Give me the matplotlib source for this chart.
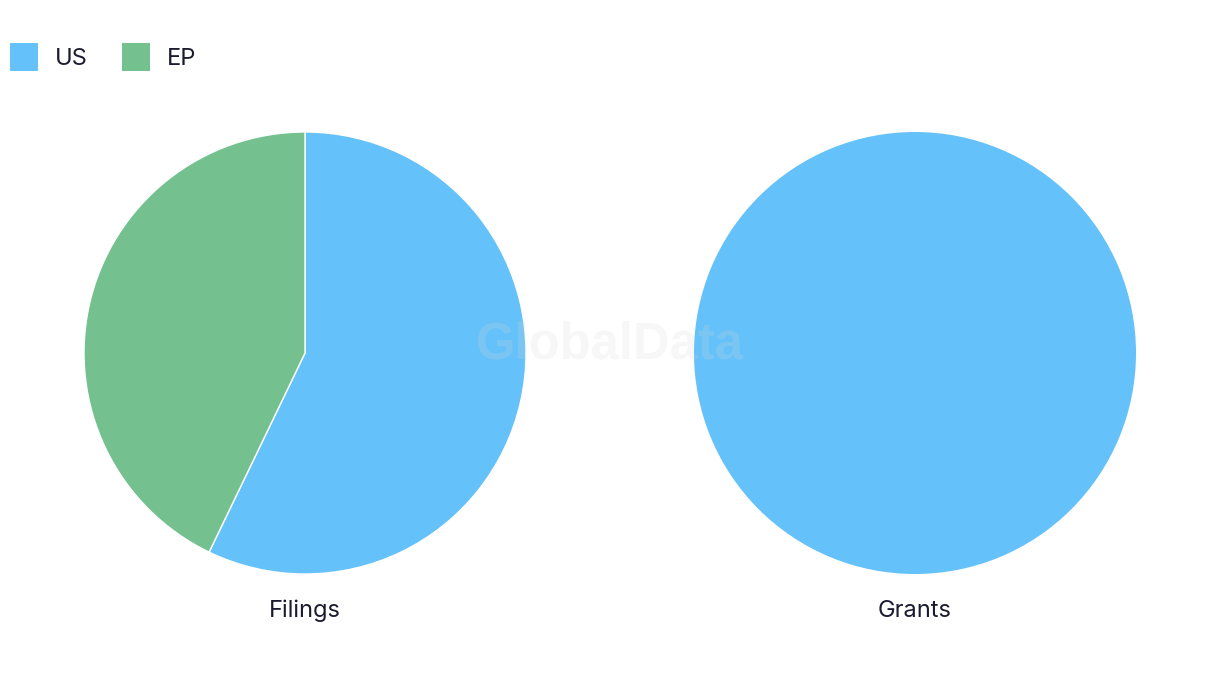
import matplotlib
matplotlib.use("Agg")
import matplotlib.pyplot as plt
from matplotlib.patches import Rectangle

categories = ["US", "EP"]
filings = [4, 3]
grants = [5, 0]
pie_titles = ["Filings", "Grants"]
colors = ["#64C1F9", "#74C18F"]
text_color = "#1b1b2f"

W, H = 1220, 686
fig = plt.figure(figsize=(W / 100, H / 100), dpi=100)
plt.rcParams['font.family'] = ['Inter', 'DejaVu Sans']

R = 221
centers = [(305, 353), (915, 353)]
for (cx, cy), vals, title in zip(centers, [filings, grants], pie_titles):
    ax = fig.add_axes([(cx - R) / W, (H - cy - R) / H, 2 * R / W, 2 * R / H])
    v = [x for x in vals if x > 0]
    c = [col for x, col in zip(vals, colors) if x > 0]
    ax.pie(v, colors=c, startangle=90, counterclock=False, radius=1,
           wedgeprops=dict(edgecolor="white", linewidth=1 if len(v) > 1 else 0))
    ax.set_xlim(-1, 1)
    ax.set_ylim(-1, 1)
    ax.set_aspect("equal")
    ax.axis("off")
    fig.text(cx / W, 1 - 611 / H, title, ha="center", va="center",
             fontsize=17, color=text_color)

# legend
lx = [10, 122]
for x0, cat, col in zip(lx, categories, colors):
    fig.add_artist(Rectangle((x0 / W, 1 - 71 / H), 28 / W, 28 / H,
                             transform=fig.transFigure, facecolor=col, edgecolor="none"))
    fig.text((x0 + 45) / W, 1 - 59 / H, cat, ha="left", va="center",
             fontsize=17, color=text_color)

# watermark
fig.text(610 / W, 1 - 345 / H, "GlobalData", ha="center", va="center",
         fontsize=36.5, fontweight="bold", family=["Liberation Sans", "DejaVu Sans"],
         color="#d9d9d9", alpha=0.2)

fig.savefig("out.png", dpi=100)
